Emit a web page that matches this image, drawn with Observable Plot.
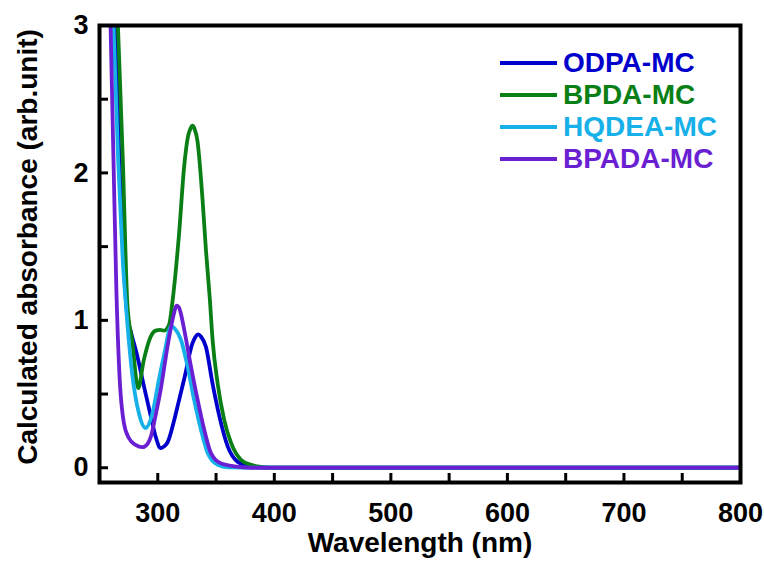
<!DOCTYPE html>
<html><head><meta charset="utf-8">
<script src="https://cdn.jsdelivr.net/npm/d3@7"></script>
<script src="https://cdn.jsdelivr.net/npm/@observablehq/plot@0.6"></script>
<style>
body{margin:0;background:#fff;}
#wrap{position:relative;width:764px;height:561px;font-family:"Liberation Sans",Arial,sans-serif;}
#legend{position:absolute;left:500px;top:47px;}
.item{display:flex;align-items:center;height:32px;font-weight:bold;font-size:28px;}
.item svg{margin-right:6px;}
</style></head><body><div id="wrap"></div>
<script>
const seriesNames = ["ODPA-MC", "BPDA-MC", "HQDEA-MC", "BPADA-MC"];
const seriesColors = ["#0000CC", "#0A7F15", "#17B0E8", "#6A1FD3"];

const odpaX = [258, 262, 264, 267, 271, 274, 277, 282.5, 288.2, 294, 298.2, 302.5, 305.4, 308.3, 314, 318, 322.6, 329.8, 332.5, 334.7, 337, 341.3, 347, 352.8, 360, 368.6, 377, 385, 400, 800];
const odpaY = [5.0, 3.6, 2.95, 2.1, 1.35, 1.02, 0.92, 0.755, 0.55, 0.35, 0.21, 0.133, 0.145, 0.17, 0.32, 0.45, 0.6, 0.845, 0.89, 0.905, 0.89, 0.82, 0.57, 0.35, 0.145, 0.04, 0.015, 0.004, 0, 0];

const bpdaX = [262, 265.8, 270, 274, 278, 283.2, 288, 294, 298.2, 302, 305.4, 309.7, 312.5, 318.3, 322.6, 326, 328, 329.8, 331.5, 334, 338.4, 341.3, 344.7, 347, 351.4, 357, 362.8, 371.4, 380, 390, 400, 800];
const bpdaY = [3.8, 3.0, 2.09, 1.1, 0.86, 0.54, 0.73, 0.89, 0.93, 0.935, 0.93, 0.97, 1.12, 1.59, 2.04, 2.25, 2.3, 2.32, 2.3, 2.22, 1.82, 1.48, 1.14, 0.87, 0.57, 0.325, 0.17, 0.054, 0.02, 0.005, 0, 0];

const hqdeaX = [257, 262, 266, 270, 273, 278, 283.8, 289.6, 295.4, 301, 306.8, 310, 312, 314.5, 319.8, 325.5, 331.2, 337, 342.8, 351.4, 360, 400, 800];
const hqdeaY = [4.5, 3.0, 2.09, 1.4, 1.07, 0.64, 0.37, 0.27, 0.37, 0.6, 0.82, 0.94, 0.96, 0.945, 0.87, 0.69, 0.46, 0.26, 0.1, 0.02, 0.003, 0, 0];

const bpadaX = [255, 259.5, 262, 264.5, 267, 271, 275.3, 281, 286.8, 291, 294, 298, 302.5, 308.3, 312, 314, 316, 318, 320, 322.6, 328.4, 334.2, 339.8, 345.6, 354, 365.7, 380, 800];
const bpadaY = [4.6, 3.0, 2.09, 1.2, 0.65, 0.3, 0.2, 0.155, 0.14, 0.16, 0.21, 0.35, 0.53, 0.82, 0.98, 1.05, 1.1, 1.09, 1.04, 0.94, 0.69, 0.46, 0.26, 0.1, 0.03, 0.01, 0, 0];

const xMajorTicks = [300, 400, 500, 600, 700, 800];
const xAllTicks = [300, 350, 400, 450, 500, 550, 600, 650, 700, 750];
const yMajorTicks = [0, 1, 2, 3];
const yAllTicks = [0, 0.5, 1, 1.5, 2, 2.5];
const xLabel = "Wavelength (nm)";
const yLabel = "Calculated absorbance (arb.unit)";

const seriesX = [odpaX, bpdaX, hqdeaX, bpadaX];
const seriesY = [odpaY, bpdaY, hqdeaY, bpadaY];
const rows = [];
seriesNames.forEach((name, i) => {
  seriesX[i].forEach((x, j) => rows.push({series: name, x, y: seriesY[i][j]}));
});

const font = "'Liberation Sans', Arial, sans-serif";
const chart = Plot.plot({
  width: 764, height: 561,
  marginLeft: 99, marginRight: 24, marginTop: 25, marginBottom: 79,
  style: {fontFamily: font, fontWeight: "bold", background: "#fff", color: "#000"},
  x: {domain: [250, 800]},
  y: {domain: [-0.1, 3]},
  color: {domain: seriesNames, range: seriesColors},
  marks: [
    Plot.line(rows, {x: "x", y: "y", z: "series", stroke: "series", curve: "monotone-x", strokeWidth: 3.8, clip: true}),
    Plot.axisX({ticks: xAllTicks, tickSize: -9, tickFormat: () => "", strokeWidth: 3, label: null}),
    Plot.axisX({ticks: xMajorTicks, tickSize: 0, tickPadding: 20, fontSize: 27, tickFormat: d => String(d), label: null}),
    Plot.axisY({ticks: yAllTicks, tickSize: -9, tickFormat: () => "", strokeWidth: 3, label: null}),
    Plot.axisY({ticks: yMajorTicks, tickSize: 0, tickPadding: 11, fontSize: 27, tickFormat: d => String(d), label: null}),
    Plot.frame({strokeWidth: 4}),
    Plot.text([xLabel], {text: d => d, frameAnchor: "bottom", dy: 61, fontSize: 28, fontWeight: "bold", lineAnchor: "middle"}),
    Plot.text([yLabel], {text: d => d, frameAnchor: "left", dx: -71, dy: -7, rotate: -90, fontSize: 28, fontWeight: "bold", lineAnchor: "middle", textAnchor: "middle"})
  ]
});
const wrap = document.getElementById("wrap");
wrap.appendChild(chart);

const legend = document.createElement("div");
legend.id = "legend";
seriesNames.forEach((name, i) => {
  const item = document.createElement("div");
  item.className = "item";
  item.innerHTML = `<svg width="57" height="6"><line x1="0" x2="57" y1="3" y2="3" stroke="${seriesColors[i]}" stroke-width="3.8"/></svg><span style="color:${seriesColors[i]}">${name}</span>`;
  legend.appendChild(item);
});
wrap.appendChild(legend);
</script>
</body></html>
